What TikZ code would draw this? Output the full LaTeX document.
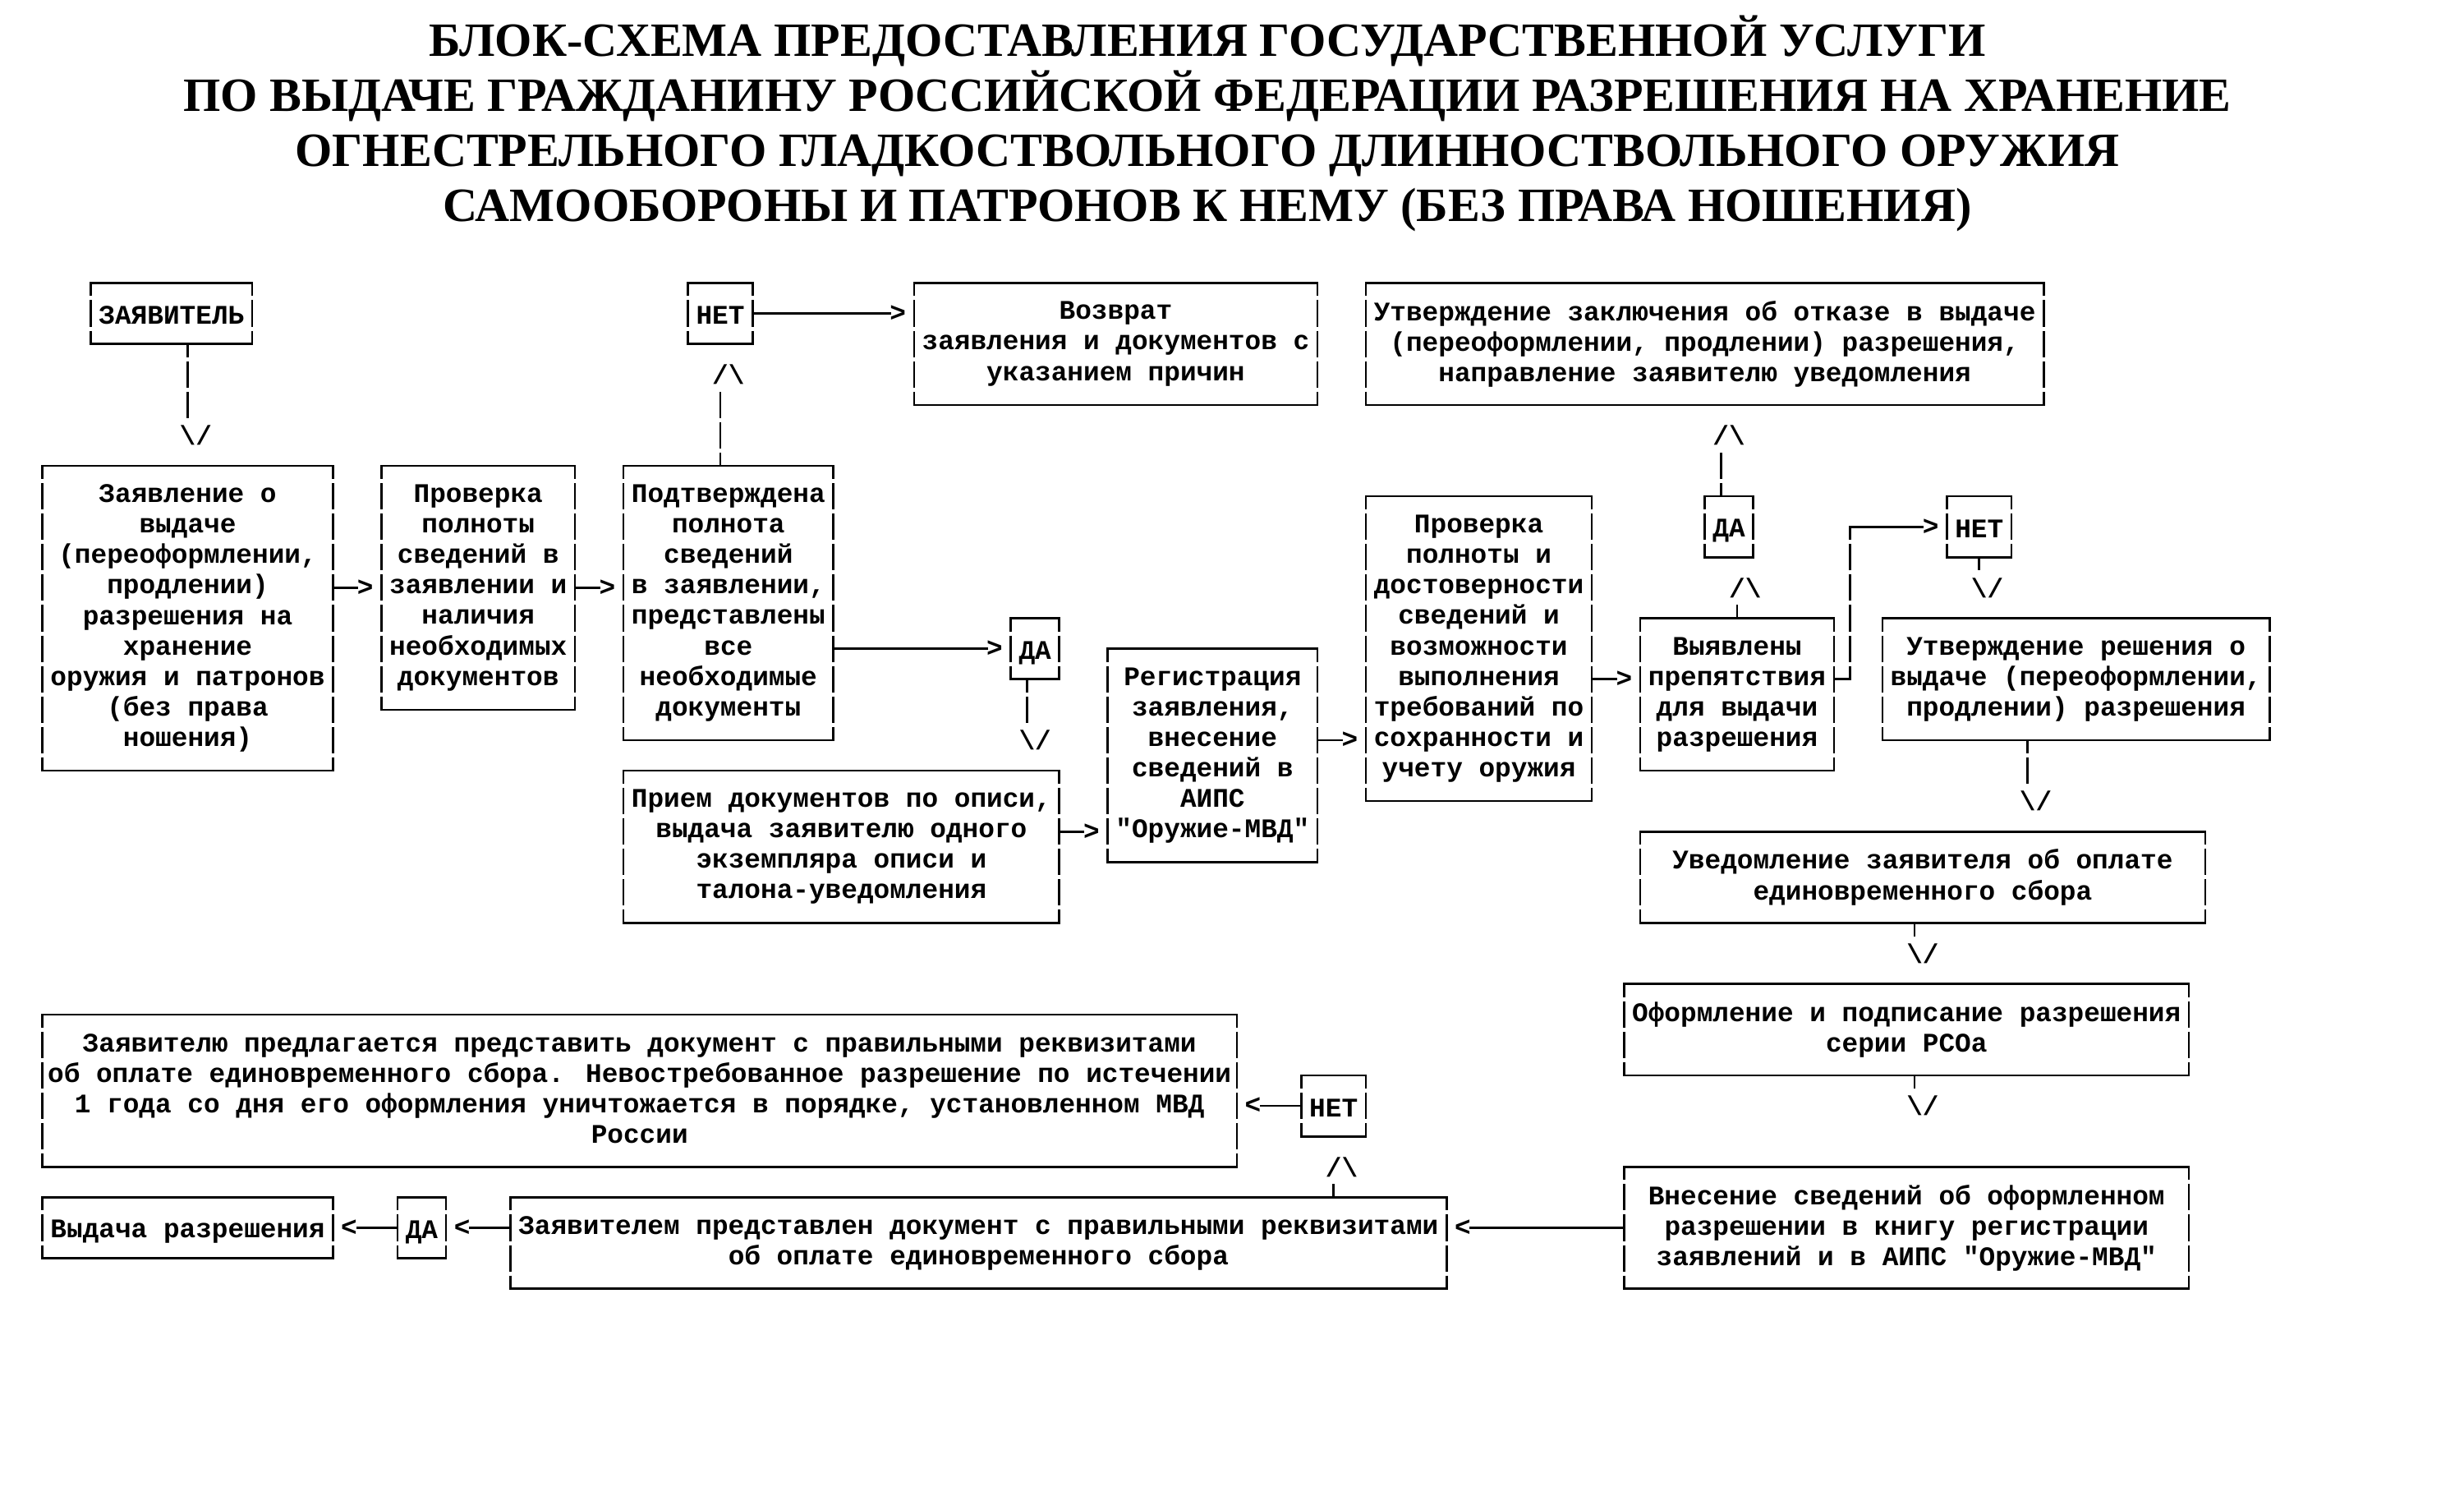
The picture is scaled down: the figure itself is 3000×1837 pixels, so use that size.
\documentclass[tikz,border=0pt]{standalone}
\usepackage{fontspec}
\setmainfont{Liberation Serif}
\newfontfamily\mono[Ligatures=TeXOff]{Liberation Mono}
\newcommand\mstrut{\vrule height 31.65pt depth 5.45pt width 0pt\relax}
\newcommand\abox[6]{\node[boxn, minimum width={(#3-#1)*19.65pt}, minimum height={(#4-#2)*37.1pt}] (#5) at ({(#1+#3)/2},{(#2+#4)/2}) {#6};
  \draw[hline] (#5.north west) -- (#5.north east) (#5.south west) -- (#5.south east);
  \draw[vline] (#5.north west) -- (#5.south west) (#5.north east) -- (#5.south east);}
\tikzset{
  monofont/.style={font=\mono\bfseries\fontsize{32.75}{37.1}\selectfont},
  boxn/.style={monofont, align=center, inner sep=0pt, outer sep=0pt, draw=none,
    execute at begin node=\mstrut, execute at end node=\mstrut},
  head/.style={monofont, inner sep=0pt, outer sep=0pt},
  hline/.style={line width=2.6pt, line cap=rect},
  conn/.style={line width=2.6pt, line cap=rect},
  vline/.style={line width=2.6pt, dash pattern=on 32.1pt off 5pt, dash phase=16.05pt},
  titlen/.style={font=\bfseries\fontsize{58.2}{67}\selectfont, align=center, inner sep=0pt,
    execute at begin node=\strut, execute at end node=\strut}
}
\begin{document}
\begin{tikzpicture}[x=19.65pt, y=-37.1pt, shift={(51.7pt,-344.4pt)}]
\fill[white] (-51.7pt,344.4pt) rectangle (2948.3pt,-1492.6pt);
\useasboundingbox (-51.7pt,344.4pt) rectangle (2948.3pt,-1492.6pt);

\node[titlen] (title) at (72.18,-5.13) {БЛОК-СХЕМА ПРЕДОСТАВЛЕНИЯ ГОСУДАРСТВЕННОЙ УСЛУГИ\\ПО ВЫДАЧЕ ГРАЖДАНИНУ РОССИЙСКОЙ ФЕДЕРАЦИИ РАЗРЕШЕНИЯ НА ХРАНЕНИЕ\\ОГНЕСТРЕЛЬНОГО ГЛАДКОСТВОЛЬНОГО ДЛИННОСТВОЛЬНОГО ОРУЖИЯ\\САМООБОРОНЫ И ПАТРОНОВ К НЕМУ (БЕЗ ПРАВА НОШЕНИЯ)};

% boxes
\abox{3}{0}{13}{2}{zayavitel}{ЗАЯВИТЕЛЬ}
\abox{40}{0}{44}{2}{net1}{НЕТ}
\abox{54}{0}{79}{4}{vozvrat}{Возврат\\заявления и документов с\\указанием причин}
\abox{82}{0}{124}{4}{utvotk}{Утверждение заключения об отказе в выдаче\\(переоформлении, продлении) разрешения,\\направление заявителю уведомления}
\abox{0}{6}{18}{16}{zayavl}{Заявление о\\выдаче\\(переоформлении,\\продлении)\\разрешения на\\хранение\\оружия и патронов\\(без права\\ношения)}
\abox{21}{6}{33}{14}{prov1}{Проверка\\полноты\\сведений в\\заявлении и\\наличия\\необходимых\\документов}
\abox{36}{6}{49}{15}{podtv}{Подтверждена\\полнота\\сведений\\в заявлении,\\представлены\\все\\необходимые\\документы}
\abox{60}{11}{63}{13}{da1}{ДА}
\abox{66}{12}{79}{19}{reg}{Регистрация\\заявления,\\внесение\\сведений в\\АИПС\\"Оружие-МВД"}
\abox{36}{16}{63}{21}{priem}{Прием документов по описи,\\выдача заявителю одного\\экземпляра описи и\\талона-уведомления}
\abox{82}{7}{96}{17}{prov2}{Проверка\\полноты и\\достоверности\\сведений и\\возможности\\выполнения\\требований по\\сохранности и\\учету оружия}
\abox{103}{7}{106}{9}{da2}{ДА}
\abox{118}{7}{122}{9}{net2}{НЕТ}
\abox{99}{11}{111}{16}{vyav}{Выявлены\\препятствия\\для выдачи\\разрешения}
\abox{114}{11}{138}{15}{utvresh}{Утверждение решения о\\выдаче (переоформлении,\\продлении) разрешения}
\abox{99}{18}{134}{21}{uved}{Уведомление заявителя об оплате\\единовременного сбора}
\abox{98}{23}{133}{26}{oform}{Оформление и подписание разрешения\\серии РСОа}
\abox{0}{24}{74}{29}{predl}{Заявителю предлагается представить документ с правильными реквизитами\\об оплате единовременного сбора. Невостребованное разрешение по истечении\\1 года со дня его оформления уничтожается в порядке, установленном МВД\\России}
\abox{78}{26}{82}{28}{net3}{НЕТ}
\abox{98}{29}{133}{33}{vnes}{Внесение сведений об оформленном\\разрешении в книгу регистрации\\заявлений и в АИПС "Оружие-МВД"}
\abox{0}{30}{18}{32}{vydacha}{Выдача разрешения}
\abox{22}{30}{25}{32}{da3}{ДА}
\abox{29}{30}{87}{33}{predst}{Заявителем представлен документ с правильными реквизитами\\об оплате единовременного сбора}

% connectors
\node[head] (ha) at (9.5,5) {\textbackslash/};
\coordinate (ca) at (9,4.5);
\draw[vline] (zayavitel.south -| ca) -- (ca);

\node[head] (hb) at (20,10) {>};
\draw[conn] (hb.west -| zayavl.east) -- (hb.west);

\node[head] (hc) at (35,10) {>};
\draw[conn] (hc.west -| prov1.east) -- (hc.west);

\node[head] (hd) at (42.5,3) {/\textbackslash};
\coordinate (cd) at (42,3.5);
\draw[vline] (podtv.north -| cd) -- (cd);

\node[head] (he) at (53,1) {>};
\draw[conn] (he.west -| net1.east) -- (he.west);

\node[head] (hf) at (59,12) {>};
\draw[conn] (hf.west -| podtv.east) -- (hf.west);

\node[head] (hg) at (61.5,15) {\textbackslash/};
\coordinate (cg) at (61,14.5);
\draw[vline] (da1.south -| cg) -- (cg);

\node[head] (hh) at (65,18) {>};
\draw[conn] (hh.west -| priem.east) -- (hh.west);

\node[head] (hi) at (81,15) {>};
\draw[conn] (hi.west -| reg.east) -- (hi.west);

\node[head] (hj) at (98,13) {>};
\draw[conn] (hj.west -| prov2.east) -- (hj.west);

\node[head] (hk) at (105.5,10) {/\textbackslash};
\coordinate (ck) at (105,10.5);
\draw[vline] (vyav.north -| ck) -- (ck);

\node[head] (hl) at (104.5,5) {/\textbackslash};
\coordinate (cl) at (104,5.5);
\draw[vline] (da2.north -| cl) -- (cl);

\node[head] (hm) at (117,8) {>};
\coordinate (cm1) at (112,13);
\coordinate (cm2) at (112,8);
\draw[conn] (cm1 -| vyav.east) -- (cm1);
\draw[vline] (cm1) -- (cm2);
\draw[conn] (cm2) -- (hm.west);

\node[head] (hn) at (120.5,10) {\textbackslash/};
\coordinate (cn) at (120,9.5);
\draw[vline] (net2.south -| cn) -- (cn);

\node[head] (ho) at (123.5,17) {\textbackslash/};
\coordinate (co) at (123,16.5);
\draw[vline] (utvresh.south -| co) -- (co);

\node[head] (hp) at (116.5,22) {\textbackslash/};
\coordinate (cp) at (116,21.5);
\draw[vline] (uved.south -| cp) -- (cp);

\node[head] (hq) at (116.5,27) {\textbackslash/};
\coordinate (cq) at (116,26.5);
\draw[vline] (oform.south -| cq) -- (cq);

\node[head] (hr) at (88,31) {<};
\draw[conn] (hr.east -| vnes.west) -- (hr.east);

\node[head] (hs) at (80.5,29) {/\textbackslash};
\coordinate (cs) at (80,29.5);
\draw[vline] (predst.north -| cs) -- (cs);

\node[head] (ht) at (75,27) {<};
\draw[conn] (ht.east -| net3.west) -- (ht.east);

\node[head] (hu) at (26,31) {<};
\draw[conn] (hu.east -| predst.west) -- (hu.east);

\node[head] (hv) at (19,31) {<};
\draw[conn] (hv.east -| da3.west) -- (hv.east);
\end{tikzpicture}
\end{document}
